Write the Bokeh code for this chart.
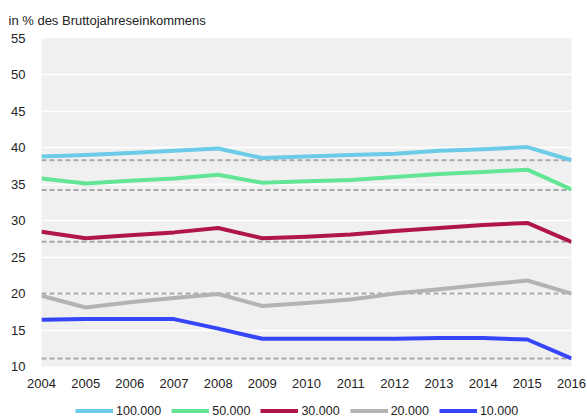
from bokeh.plotting import figure
from bokeh.layouts import column
from bokeh.models import Legend, LegendItem, FixedTicker, Range1d, Title
from bokeh.embed import file_html
from bokeh.resources import INLINE

years = [2004, 2005, 2006, 2007, 2008, 2009, 2010, 2011, 2012, 2013, 2014, 2015, 2016]

s100 = [38.8, 39.0, 39.3, 39.6, 39.9, 38.6, 38.8, 39.0, 39.2, 39.6, 39.8, 40.1, 38.3]
s50 = [35.8, 35.1, 35.5, 35.8, 36.3, 35.2, 35.4, 35.6, 36.0, 36.4, 36.7, 37.0, 34.3]
s30 = [28.5, 27.6, 28.0, 28.4, 29.0, 27.6, 27.8, 28.1, 28.6, 29.0, 29.4, 29.7, 27.1]
s20 = [19.7, 18.1, 18.8, 19.4, 19.95, 18.3, 18.7, 19.2, 20.0, 20.6, 21.2, 21.8, 20.0]
s10 = [16.4, 16.5, 16.5, 16.5, 15.2, 13.8, 13.8, 13.8, 13.8, 13.9, 13.9, 13.7, 11.1]

ref_levels = [38.3, 34.2, 27.1, 20.0, 11.1]

labels = ["100.000", "50.000", "30.000", "20.000", "10.000"]
colors = ["#6ccbe6", "#63e596", "#b01648", "#b3b3b3", "#3446f7"]
series = [s100, s50, s30, s20, s10]

y_ticks = [10, 15, 20, 25, 30, 35, 40, 45, 50, 55]

FONT = "Liberation Sans"
NAN = float("nan")

p = figure(width=587, height=395, output_backend="svg", toolbar_location=None,
           x_range=Range1d(2004, 2016), y_range=Range1d(10, 55),
           min_border_left=41, min_border_right=16, min_border_top=38,
           min_border_bottom=29)
p.background_fill_color = "#f0f0f0"
p.border_fill_color = "white"
p.outline_line_color = None

p.xgrid.grid_line_color = None
p.ygrid.grid_line_color = "white"
p.ygrid.grid_line_width = 1.5

for ax in (p.xaxis, p.yaxis):
    ax.axis_line_color = None
    ax.major_tick_line_color = None
    ax.minor_tick_line_color = None
    ax.major_label_text_font = FONT
    ax.major_label_text_font_size = "13px"
    ax.major_label_text_color = "#222222"

p.xaxis.ticker = FixedTicker(ticks=years)
p.yaxis.ticker = FixedTicker(ticks=y_ticks)
p.xaxis.major_label_standoff = 6
p.yaxis.major_label_standoff = 10

for lvl in ref_levels:
    p.line([years[0], years[-1]], [lvl, lvl], line_color="#a8a8a8",
           line_width=2, line_dash="5 3")

for col, ys in zip(colors, series):
    p.line(years, ys, line_color=col, line_width=4, line_join="round")

title = Title(text="in % des Bruttojahreseinkommens", align="left",
              text_font=FONT, text_font_size="13px", text_font_style="normal",
              text_color="#222222", offset=-33, standoff=21)
p.add_layout(title, "above")

# legend strip
lg = figure(width=587, height=23, output_backend="svg", toolbar_location=None,
            x_range=Range1d(0, 1), y_range=Range1d(0, 1),
            x_axis_type=None, y_axis_type=None,
            min_border_left=0, min_border_right=0, min_border_top=0,
            min_border_bottom=0)
lg.outline_line_color = None
lg.background_fill_color = "white"
lg.border_fill_color = "white"
lg.xgrid.grid_line_color = None
lg.ygrid.grid_line_color = None

items = []
for lab, col in zip(labels, colors):
    r = lg.line(x=[NAN, NAN], y=[NAN, NAN], line_color=col, line_width=4)
    items.append(LegendItem(label=lab, renderers=[r]))

legend = Legend(items=items, orientation="horizontal", location=(34, 0),
                glyph_width=38, glyph_height=15, label_standoff=3, spacing=10,
                label_text_font=FONT, label_text_font_size="12.5px",
                label_text_color="#222222", border_line_color=None,
                background_fill_alpha=0, padding=0, margin=0)
lg.add_layout(legend, "center")

layout = column(p, lg, spacing=0)

open("out.html", "w").write(file_html(layout, INLINE))
